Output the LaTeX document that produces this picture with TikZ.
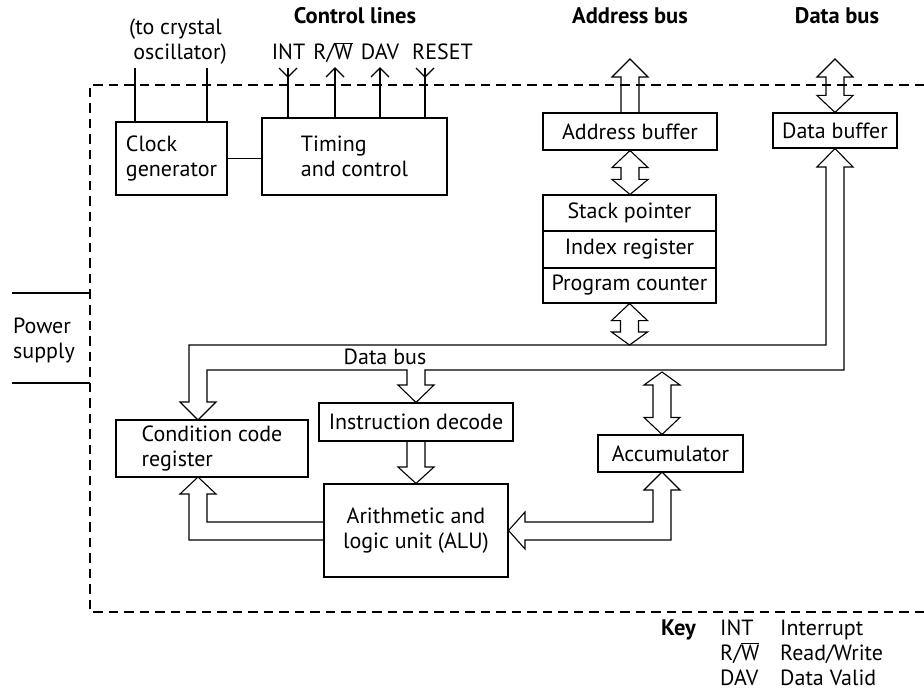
\documentclass[tikz,border=0pt]{standalone}
\usepackage{fontspec}
\setmainfont{PT Sans}
\usetikzlibrary{calc}
\newcommand\vdbl[4]{%
 \draw[hollow] let \p1=(#1), \p2=(#2) in (\x1,\y1) -- ++(18pt,-#3) -- ++(-9pt,0pt) -- (\x1+9pt,\y2+#4) -- ++(9pt,0pt) -- (\x1,\y2) -- ++(-18pt,#4) -- ++(9pt,0pt) -- (\x1-9pt,\y1-#3) -- ++(-9pt,0pt) -- cycle;}
\newcommand\RWbar{R/$\overline{\mbox{W}}$}
\newcommand\hd{\fontsize{22.5}{25}\selectfont\bfseries}
\begin{document}
\begin{tikzpicture}[x=1pt,y=-1pt,
  every node/.style={font=\fontsize{22}{25}\selectfont, inner sep=0pt},
  box/.style={draw, line width=1.1pt, align=center},
  ln/.style={line width=1.1pt, line join=miter},
  hollow/.style={line width=1.1pt, line join=miter},
  border/.style={line width=1.1pt, dash pattern=on 9.5pt off 6pt}]
\useasboundingbox (0,0) rectangle (924,695);

% boundary of the chip
\draw[border] (924,85) -- (90,85) -- (90,612) -- (924,612);

% boxes
\node[box, minimum width=111pt, minimum height=73pt, align=left] (clk) at (171.5,158.5) {Clock\\generator};
\node[box, minimum width=185pt, minimum height=77pt, align=left] (tc) at (354.5,156.5) {Timing\\and control};
\node[box, minimum width=174pt, minimum height=37pt] (ab) at (630,131.5) {Address buffer};
\node[box, minimum width=124pt, minimum height=35pt] (db) at (835,130.5) {Data buffer};
\node[box, minimum width=173pt, minimum height=36pt] (sp) at (629.5,213) {Stack pointer};
\node[box, minimum width=173pt, minimum height=37pt] (ir) at (629.5,249.5) {Index register};
\node[box, minimum width=173pt, minimum height=35pt] (pc) at (629.5,285.5) {Program counter};
\node[box, minimum width=192pt, minimum height=57pt, align=left] (ccr) at (212,448.5) {Condition code\\register};
\node[box, minimum width=194pt, minimum height=38pt] (id) at (416,422) {Instruction decode};
\node[box, minimum width=184pt, minimum height=93pt] (alu) at (416,530.5) {Arithmetic and\\logic unit (ALU)};
\node[box, minimum width=145pt, minimum height=37pt] (acc) at (670.5,453.5) {Accumulator};

% headings and labels
\node[anchor=base] (hcl) at (355,24) {\hd Control lines};
\node[anchor=base] (hab) at (630,24) {\hd Address bus};
\node[anchor=base] (hdb) at (837,24) {\hd Data bus};
\node[anchor=base] (xt1) at (175.5,35) {(to crystal};
\node[anchor=base] (xt2) at (180,60) {oscillator)};
\node[anchor=base] (lint) at (288.5,60) {INT};
\node[anchor=base] (lrw) at (333,60) {\RWbar};
\node[anchor=base] (ldav) at (380,60) {DAV};
\node[anchor=base west] (lrst) at (412,60) {RESET};
\node[anchor=base west] (pw1) at (13,333) {Power};
\node[anchor=base west] (pw2) at (13,358) {supply};
\node[anchor=base] (dbl) at (385,364) {Data bus};
\node[anchor=base west] (key) at (661,635) {\hd Key};
\node[anchor=base west] (k1) at (720,635) {INT};
\node[anchor=base west] (k2) at (720,660) {\RWbar};
\node[anchor=base west] (k3) at (720,685) {DAV};
\node[anchor=base west] (d1) at (780,635) {Interrupt};
\node[anchor=base west] (d2) at (780,660) {Read/Write};
\node[anchor=base west] (d3) at (780,685) {Data Valid};

% power supply lines
\coordinate (ps1) at (12,293); \coordinate (ps2) at (12,383);
\draw[ln] (ps1) -- (90,293);
\draw[ln] (ps2) -- (90,383);

% clock connections
\draw[ln] (clk.east) -- (clk.east -| tc.west);
\coordinate (xa) at (135,68); \coordinate (xb) at (207,68);
\draw[ln] (xa) -- (xa |- clk.north);
\draw[ln] (xb) -- (xb |- clk.north);

% control lines
\coordinate (cint) at (288,68); \coordinate (crw) at (335,68);
\coordinate (cdav) at (380,68); \coordinate (crst) at (425,68);
\foreach \c in {cint,crw,cdav,crst} {\draw[ln] (\c) -- (\c |- tc.north);}
\draw[ln] (cint) ++(-9,0) -- ++(9,9) -- ++(9,-9);
\draw[ln] (crst) ++(-9,0) -- ++(9,9) -- ++(9,-9);
\draw[ln] (crw) ++(-9,9) -- ++(9,-9) -- ++(9,9);
\draw[ln] (cdav) ++(-9,9) -- ++(9,-9) -- ++(9,9);

% address bus
\coordinate (abtop) at (630,59);
\draw[hollow] let \p1=(abtop), \p2=(ab.north) in (\x1-9pt,\y2) -- (\x1-9pt,\y1-18pt) -- ++(-9pt,0pt) -- (\x1,\y1) -- ++(18pt,-18pt) -- ++(-9pt,0pt) -- (\x1+9pt,\y2);
\vdbl{ab.south}{sp.north}{17pt}{15pt}
\coordinate (pcbus) at (629.5,345);
\vdbl{pc.south}{pcbus}{17pt}{13pt}

% data bus top
\coordinate (dbtop) at (835,59);
\vdbl{dbtop}{db.north}{18pt}{17pt}

% internal data bus
\draw[hollow] (db.south) -- (853,167) -- (844,167) -- (844,370) -- (425,370) -- (425,385) -- (434,385) -- (id.north) -- (398,385) -- (407,385) -- (407,370) -- (207,370) -- (207,402) -- (216,402) -- (198,420) -- (180,402) -- (189,402) -- (189,345) -- (826,345) -- (826,167) -- (817,167) -- cycle;

% accumulator
\coordinate (accbus) at (662,372);
\vdbl{accbus}{accbus |- acc.north}{13pt}{17pt}
\draw[hollow] (662,472) -- (680,490) -- (671,490) -- (671,540) -- (525,540) -- (525,549) -- (alu.east) -- (525,512) -- (525,522) -- (653,522) -- (653,490) -- (644,490) -- cycle;

% instruction decode to ALU
\draw[hollow] (407,441) -- (407,467) -- (398,467) -- (alu.north) -- (434,467) -- (425,467) -- (425,441);

% ALU to condition code register
\draw[hollow] (324,522) -- (207,522) -- (207,494) -- (216,494) -- (198,477) -- (180,494) -- (189,494) -- (189,540) -- (324,540);
\end{tikzpicture}
\end{document}
